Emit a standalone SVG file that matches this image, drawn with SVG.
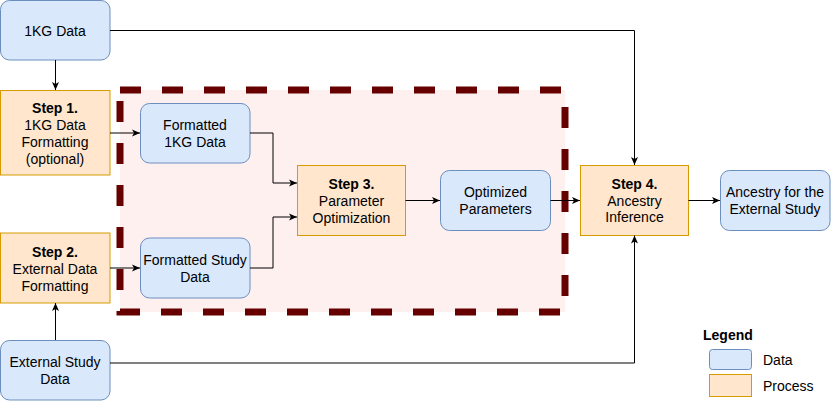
<svg xmlns="http://www.w3.org/2000/svg" width="831" height="401" viewBox="0 0 831 401">
  <style>
    .data { fill: #dae8fc; stroke: #6c8ebf; stroke-width: 1; }
    .proc { fill: #ffe6cc; stroke: #d79b00; stroke-width: 1; }
    text { font-family: "Liberation Sans", Arial, Helvetica, sans-serif; font-size: 14px; fill: #000; text-anchor: middle; }
    .b { font-weight: bold; }
    .edge { fill: none; stroke: #000; stroke-width: 1; marker-end: url(#arrow); }
    .left { text-anchor: start; }
  </style>
  <defs>
    <marker id="arrow" viewBox="0 0 8 8" refX="8" refY="4" markerWidth="8" markerHeight="8" markerUnits="userSpaceOnUse" orient="auto">
      <path d="M0,0.5 L8,4 L0,7.5 L2,4 Z" fill="#000"/>
    </marker>
  </defs>
  <rect width="831" height="401" fill="#ffffff"/>

  <g id="container">
    <rect x="120" y="90" width="445" height="222" fill="#fff0f0" stroke="#660000" stroke-width="7" stroke-dasharray="21 21"/>
  </g>

  <g id="n-1kg-data">
    <rect class="data" x="0.5" y="0.5" width="109.5" height="59.5" rx="9"/>
    <text x="55" y="35.5">1KG Data</text>
  </g>
  <g id="n-step1">
    <rect class="proc" x="0.5" y="90.5" width="109.5" height="84.5"/>
    <text x="55" y="113.3"><tspan class="b">Step 1.</tspan><tspan x="55" dy="16.8">1KG Data</tspan><tspan x="55" dy="16.8">Formatting</tspan><tspan x="55" dy="16.8">(optional)</tspan></text>
  </g>
  <g id="n-step2">
    <rect class="proc" x="0.5" y="233" width="109.5" height="70"/>
    <text x="55" y="257"><tspan class="b">Step 2.</tspan><tspan x="55" dy="16.8">External Data</tspan><tspan x="55" dy="16.8">Formatting</tspan></text>
  </g>
  <g id="n-external-study">
    <rect class="data" x="0.5" y="340.5" width="109.5" height="59.5" rx="9"/>
    <text x="55" y="367"><tspan>External Study</tspan><tspan x="55" dy="16.8">Data</tspan></text>
  </g>
  <g id="n-formatted-1kg">
    <rect class="data" x="140.5" y="103.5" width="109.5" height="59.5" rx="9"/>
    <text x="195" y="130.2"><tspan>Formatted</tspan><tspan x="195" dy="16.8">1KG Data</tspan></text>
  </g>
  <g id="n-formatted-study">
    <rect class="data" x="140.5" y="238" width="109.5" height="60" rx="9"/>
    <text x="195" y="265.2"><tspan>Formatted Study</tspan><tspan x="195" dy="16.8">Data</tspan></text>
  </g>
  <g id="n-step3">
    <rect class="proc" x="297.5" y="165.5" width="108" height="70"/>
    <text x="351.5" y="189.2"><tspan class="b">Step 3.</tspan><tspan x="351.5" dy="16.8">Parameter</tspan><tspan x="351.5" dy="16.8">Optimization</tspan></text>
  </g>
  <g id="n-optimized">
    <rect class="data" x="440.5" y="170.5" width="110" height="60" rx="9"/>
    <text x="495.5" y="197.2"><tspan>Optimized</tspan><tspan x="495.5" dy="16.8">Parameters</tspan></text>
  </g>
  <g id="n-step4">
    <rect class="proc" x="580.5" y="165.5" width="108" height="70"/>
    <text x="634.5" y="188.8"><tspan class="b">Step 4.</tspan><tspan x="634.5" dy="16.8">Ancestry</tspan><tspan x="634.5" dy="16.8">Inference</tspan></text>
  </g>
  <g id="n-ancestry">
    <rect class="data" x="720.5" y="170.5" width="109.5" height="60" rx="9"/>
    <text x="775" y="197"><tspan>Ancestry for the</tspan><tspan x="775" dy="16.8">External Study</tspan></text>
  </g>

  <g id="connectors">
    <path class="edge" d="M110,30.5 H634.5 V165"/>
    <path class="edge" d="M55.5,60 V90"/>
    <path class="edge" d="M110,133 H140"/>
    <path class="edge" d="M250,133 H273 V183 H297"/>
    <path class="edge" d="M110,268 H140"/>
    <path class="edge" d="M250,268 H273 V217 H297"/>
    <path class="edge" d="M55.5,340 V303"/>
    <path class="edge" d="M110,363 H634.5 V235.5"/>
    <path class="edge" d="M405.5,200.5 H440"/>
    <path class="edge" d="M550.5,200.5 H580"/>
    <path class="edge" d="M688.5,200.5 H720"/>
  </g>

  <g id="legend">
    <text class="b left" x="703" y="340">Legend</text>
    <rect class="data" x="709.5" y="349.5" width="42" height="20" rx="3"/>
    <rect class="proc" x="709.5" y="374.5" width="42" height="22"/>
    <text class="left" x="763" y="365">Data</text>
    <text class="left" x="763" y="390.5">Process</text>
  </g>
</svg>
